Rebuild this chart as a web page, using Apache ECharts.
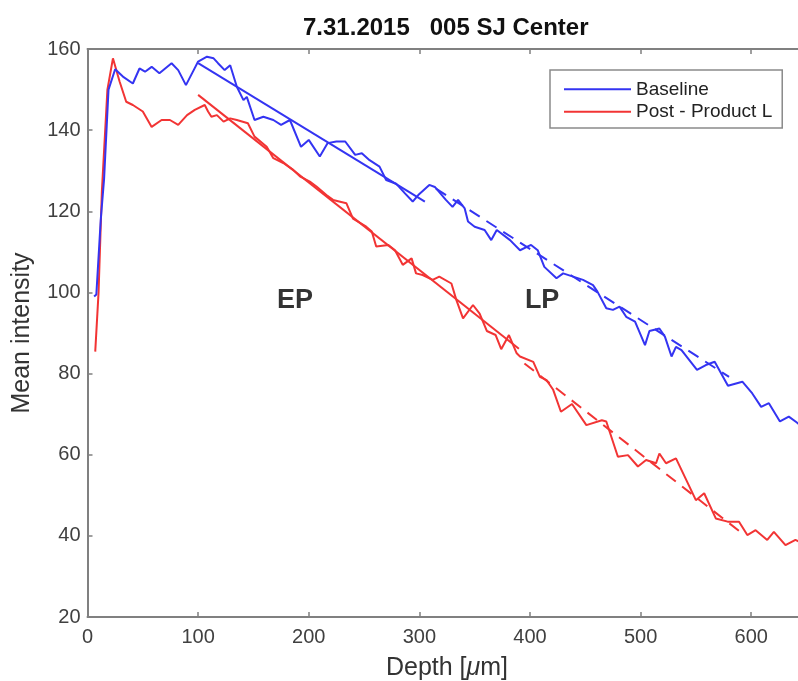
<!DOCTYPE html>
<html>
<head>
<meta charset="utf-8">
<script src="https://cdn.jsdelivr.net/npm/echarts@6/dist/echarts.min.js"></script>
<style>
html,body{margin:0;padding:0;background:#fff;overflow:hidden;}
#chart{width:798px;height:681px;}
</style>
</head>
<body>
<div id="chart"></div>
<script>
// ---- data ----
var baselineDepth = [6,8,12,15,19,25,32,41,47,52,58,65,76,82,89,96,100,108,114,118,124,129,135,141,144,151,159,168,175,183,193,200,210,217,225,233,242,248,255,264,270,279,287,294,299,309,314,324,330,335,341,344,350,359,365,370,382,391,401,407,413,424,430,439,448,457,461,469,475,481,487,495,504,508,517,522,528,532,537,551,559,567,579,592,601,609,616,626,634,641,648];
var baselineValue = [99,99.5,118,128,150,155,153.2,151.5,155.2,154.4,155.6,154,156.5,154.8,151.1,154.8,156.9,158.1,157.7,156.5,154.8,156,150.7,147.4,148.2,142.5,143.3,142.5,141.3,142.5,135.9,137.6,133.5,136.8,137.2,137.2,133.9,134.3,132.6,131,127.7,126.8,124.4,122.4,124,126.5,126,122.8,121.1,122.8,120.7,117.5,116.2,115.4,112.9,115.4,112.9,110.4,111.7,110.4,106.3,103.5,104.7,103.9,103.1,101.8,100.2,96.1,95.7,96.5,94,92.8,87,90.5,91.1,89.1,84.2,86.6,85.8,80.9,82.1,82.9,77,78,75.1,71.8,72.7,68.2,69.4,68,66.5];

var postDepth = [7,10,13,18,23,29,35,41,50,58,67,74.5,82,90,97,106,109,112,117,123,129,135,145,151,162,168,177,186,192,201,207,216,222,234,240,252,257,261,272,278,285,293,297,303,312,318,329,333.5,339.5,348.5,354.5,361,369,374,381,388,391,403,409,415,421,428,438,451,465,469,479.5,488.6,497.6,505,514,517,523,532,550,557.5,568,578.7,589,596.5,604,614.5,620.5,631,640,648];
var postValue = [85.4,100,125,150,157.7,152,147,146.2,144.6,140.8,142.5,142.5,141.3,143.7,145,146.2,144.6,143.3,143.7,142.1,142.9,142.5,141.7,138.4,135.9,133.1,131.9,130.2,128.6,127.3,126.1,124,122.8,122,118.2,116.2,115,111.3,111.7,110.4,106.8,108.4,104.7,104.3,103.1,103.9,102.2,98.1,93.6,96.9,94.8,90.5,89.5,86,89.5,85,84.2,82.9,79.2,78.4,76,70.6,72.5,67.3,68.5,68.2,59.5,59.9,57.1,58.7,57.9,60.3,57.9,59.1,48.8,50.5,44.3,43.5,43.5,40.2,41.4,39,41,37.7,39,38];

// linear fits (start/end depth and value)
var baselineEPFitDepth = [100, 305];
var baselineEPFitValue = [156.5, 122.4];
var baselineLPFitDepth = [315, 580];
var baselineLPFitValue = [125.6, 79.2];
var postEPFitDepth = [100, 390];
var postEPFitValue = [148.7, 86.1];
var postLPFitDepth = [395, 590];
var postLPFitValue = [82.5, 41.0];

var annotationText = ['EP', 'LP'];
var annotationDepth = [187.5, 411];
var annotationValue = [98.1, 98.1];

var xTicks = [0, 100, 200, 300, 400, 500, 600];
var yTicks = [20, 40, 60, 80, 100, 120, 140, 160];

var titleText = '7.31.2015   005 SJ Center';
var seriesNames = ['Baseline', 'Post - Product L'];

// ---- build ----
function pairs(xs, ys) { return xs.map(function (x, i) { return [x, ys[i]]; }); }
var BLUE = '#3434f2', RED = '#f23434';
var FONT = '"Liberation Sans", Arial, Helvetica, sans-serif';
var axisColor = '#808080';

var chart = echarts.init(document.getElementById('chart'), null, {renderer: 'canvas'});
var option = {
  animation: false,
  textStyle: {fontFamily: FONT},
  title: {
    text: titleText,
    left: 298, top: 11,
    textStyle: {fontFamily: FONT, fontWeight: 'bold', fontSize: 24, color: '#111'}
  },
  grid: {left: 87.5, width: 719, top: 49, bottom: 64, containLabel: false, outerBoundsMode: 'none'},
  legend: {
    data: seriesNames,
    orient: 'vertical',
    left: 550, top: 70,
    itemWidth: 67, itemHeight: 19, itemGap: 3.4,
    padding: [9.8, 10, 6.8, 13],
    borderColor: '#8a8a8a', borderWidth: 1.5,
    backgroundColor: '#fff',
    itemStyle: {opacity: 0},
    textStyle: {fontFamily: FONT, fontSize: 19, color: '#222'}
  },
  xAxis: [{
    type: 'value', min: 0, max: 650, interval: 100, position: 'bottom',
    axisLine: {show: true, lineStyle: {color: axisColor, width: 2}},
    axisTick: {show: true, inside: true, length: 5, lineStyle: {color: axisColor, width: 1.5}},
    axisLabel: {fontFamily: FONT, fontSize: 20, color: '#404040', margin: 10,
      formatter: function (v) { return xTicks.indexOf(v) >= 0 ? String(v) : ''; }},
    splitLine: {show: false},
    name: '{n|Depth [}{i|μ}{n|m]}',
    nameLocation: 'middle', nameGap: 39,
    nameTextStyle: {rich: {
      n: {fontFamily: FONT, fontSize: 25, color: '#333'},
      i: {fontFamily: FONT, fontSize: 25, color: '#333', fontStyle: 'italic'}
    }}
  }, {
    type: 'value', min: 0, max: 650, interval: 100, position: 'top',
    axisLine: {show: true, lineStyle: {color: axisColor, width: 2}},
    axisTick: {show: true, inside: true, length: 5, lineStyle: {color: axisColor, width: 1.5}},
    axisLabel: {show: false},
    splitLine: {show: false}
  }],
  yAxis: {
    type: 'value', min: 20, max: 160, interval: 20,
    axisLine: {show: true, lineStyle: {color: axisColor, width: 2}},
    axisTick: {show: true, inside: true, length: 5, lineStyle: {color: axisColor, width: 1.5}},
    axisLabel: {fontFamily: FONT, fontSize: 20, color: '#404040', margin: 7,
      formatter: function (v) { return yTicks.indexOf(v) >= 0 ? String(v) : ''; }},
    splitLine: {show: false},
    name: 'Mean intensity', nameLocation: 'middle', nameGap: 53, nameRotate: 90,
    nameTextStyle: {fontFamily: FONT, fontSize: 25, color: '#333'}
  },
  series: [
    {name: seriesNames[0], type: 'line', symbol: 'none', data: pairs(baselineDepth, baselineValue),
     lineStyle: {color: BLUE, width: 2}, itemStyle: {color: BLUE}, z: 3},
    {name: seriesNames[1], type: 'line', symbol: 'none', data: pairs(postDepth, postValue),
     lineStyle: {color: RED, width: 2}, itemStyle: {color: RED}, z: 2},
    {name: 'Baseline EP fit', type: 'line', symbol: 'none', data: pairs(baselineEPFitDepth, baselineEPFitValue),
     lineStyle: {color: BLUE, width: 2}, z: 3},
    {name: 'Baseline LP fit', type: 'line', symbol: 'none', data: pairs(baselineLPFitDepth, baselineLPFitValue),
     lineStyle: {color: BLUE, width: 2, type: [12, 8]}, z: 3},
    {name: 'Post EP fit', type: 'line', symbol: 'none', data: pairs(postEPFitDepth, postEPFitValue),
     lineStyle: {color: RED, width: 2}, z: 2},
    {name: 'Post LP fit', type: 'line', symbol: 'none', data: pairs(postLPFitDepth, postLPFitValue),
     lineStyle: {color: RED, width: 2, type: [12, 8]}, z: 2},
    {name: 'annotations', type: 'scatter', symbolSize: 0, silent: true, z: 5,
     data: annotationText.map(function (t, i) { return {name: t, value: [annotationDepth[i], annotationValue[i]]}; }),
     label: {show: true, position: 'inside', formatter: '{b}', fontFamily: FONT, fontWeight: 'bold', fontSize: 27, color: '#000'}}
  ]
};
chart.setOption(option);
</script>
</body>
</html>
